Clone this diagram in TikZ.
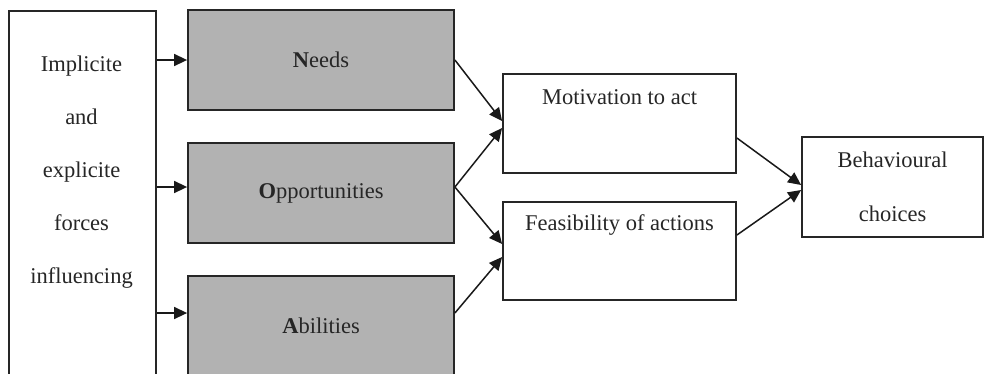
\documentclass[tikz,border=0pt]{standalone}
\usepackage{fontspec}
\setmainfont{Liberation Serif}
\usetikzlibrary{arrows.meta}
\definecolor{boxgray}{RGB}{178,178,178}
\tikzset{
  box/.style={draw=black!85, line width=1.8pt, inner sep=0pt, rectangle},
  graybox/.style={box, fill=boxgray, minimum width=266pt, minimum height=100pt},
  whitebox/.style={box, fill=white},
  txt/.style={font=\fontsize{22.5pt}{53pt}\selectfont, text=black!85},
  arr/.style={line width=1.5pt, draw=black!90, -{Triangle[length=13pt,width=12pt]}},
  toplabel/.style={label={[txt, anchor=center, yshift=-24pt]north:#1}}
}
\begin{document}
\begin{tikzpicture}[x=1pt, y=-1pt]
\clip (0,0) rectangle (984,373);
\fill[white] (0,0) rectangle (984,373);
% left box
\node[whitebox, minimum width=147pt, minimum height=380pt, anchor=north west] (forces) at (8,10) {};
\node[txt, align=center] (forcestext) at (81.5,172) {Implicite\\and\\explicite\\forces\\influencing};
% gray boxes
\node[graybox, txt] (needs) at (321,60) {\textbf{N}eeds};
\node[graybox, txt] (opp) at (321,193) {\textbf{O}pportunities};
\node[graybox, txt] (abil) at (321,326) {\textbf{A}bilities};
% middle boxes
\node[whitebox, minimum width=233pt, minimum height=99pt, toplabel={Motivation to act}] (mot) at (619.5,123.5) {};
\node[whitebox, minimum width=233pt, minimum height=98pt, toplabel={Feasibility of actions}] (feas) at (619.5,251) {};
% right box
\node[whitebox, txt, align=center, minimum width=181pt, minimum height=100pt, font=\fontsize{22.5pt}{54pt}\selectfont] (beh) at (892.5,187) {Behavioural\\choices};
% connection points
\coordinate (oppin) at ([yshift=6pt]opp.west);
\coordinate (abilin) at ([yshift=13pt]abil.west);
\coordinate (oppout) at ([yshift=6pt]opp.east);
\coordinate (abilout) at ([yshift=13pt]abil.east);
% arrows from left box
\draw[arr] (forces.east |- needs.west) -- (needs.west);
\draw[arr] (forces.east |- oppin) -- (oppin);
\draw[arr] (forces.east |- abilin) -- (abilin);
% arrows to middle boxes
\draw[arr] (needs.east) -- ([yshift=2.5pt]mot.west);
\draw[arr] (oppout) -- ([yshift=-4.5pt]mot.west);
\draw[arr] (oppout) -- ([yshift=7pt]feas.west);
\draw[arr] (abilout) -- ([yshift=-6pt]feas.west);
% arrows to right box
\draw[arr] ([yshift=-14.5pt]mot.east) -- ([yshift=2pt]beh.west);
\draw[arr] ([yshift=16pt]feas.east) -- ([yshift=-3pt]beh.west);
\end{tikzpicture}
\end{document}
